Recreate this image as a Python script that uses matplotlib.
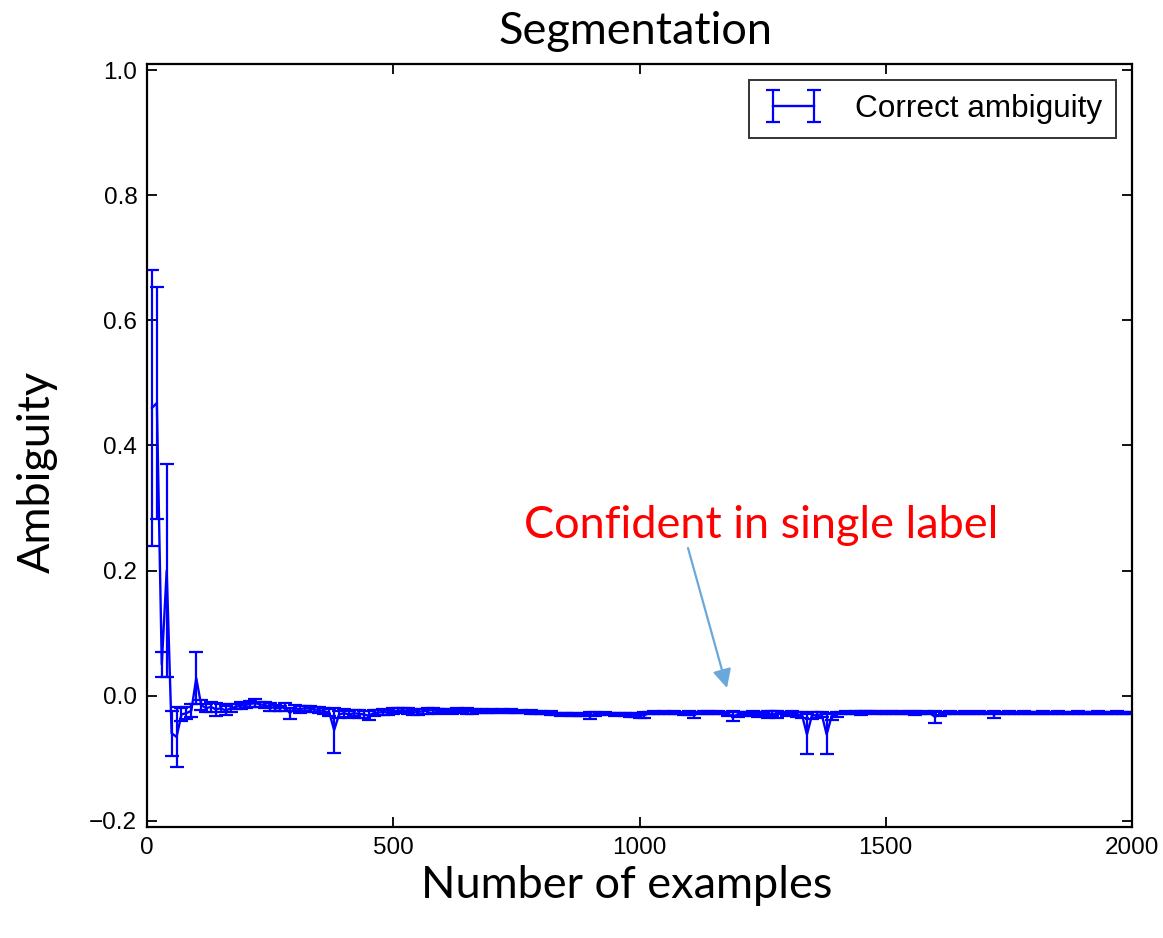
import numpy as np
import matplotlib
matplotlib.use("Agg")
import matplotlib.pyplot as plt

# sample count on the x axis (one point every 10 examples)
n_examples = list(range(10, 2001, 10))

ambiguity_mean = [
    0.460, 0.468, 0.050, 0.200, -0.060, -0.066, -0.030, -0.028, -0.024, 0.028,
    -0.015, -0.020, -0.018, -0.022, -0.020, -0.024, -0.020, -0.018, -0.016, -0.015,
    -0.013, -0.012, -0.014, -0.015, -0.018, -0.020, -0.020, -0.018, -0.028, -0.020,
    -0.022, -0.020, -0.021, -0.022, -0.023, -0.025, -0.027, -0.055, -0.030, -0.028,
    -0.030, -0.028, -0.029, -0.030, -0.032, -0.028, -0.027, -0.026, -0.027, -0.025,
    -0.024, -0.023, -0.025, -0.027, -0.026, -0.025, -0.024, -0.023, -0.025, -0.024,
    -0.025, -0.026, -0.024, -0.025, -0.024, -0.026, -0.025, -0.024, -0.025, -0.025,
    -0.025, -0.024, -0.025, -0.025, -0.026, -0.025, -0.026, -0.026, -0.027, -0.027,
    -0.028, -0.028, -0.029, -0.030, -0.029, -0.030, -0.030, -0.031, -0.030, -0.032,
    -0.029, -0.029, -0.028, -0.029, -0.030, -0.029, -0.030, -0.031, -0.031, -0.032,
    -0.031, -0.028, -0.027, -0.028, -0.027, -0.028, -0.027, -0.028, -0.029, -0.028,
    -0.031, -0.028, -0.027, -0.027, -0.028, -0.027, -0.028, -0.029, -0.033, -0.030,
    -0.029, -0.028, -0.029, -0.030, -0.029, -0.030, -0.029, -0.030, -0.028, -0.029,
    -0.028, -0.030, -0.031, -0.062, -0.032, -0.031, -0.030, -0.062, -0.033, -0.030,
    -0.028, -0.027, -0.028, -0.027, -0.028, -0.027, -0.026, -0.027, -0.028, -0.027,
    -0.027, -0.028, -0.027, -0.028, -0.027, -0.028, -0.028, -0.027, -0.028, -0.034,
    -0.029, -0.028, -0.027, -0.028, -0.028, -0.027, -0.028, -0.028, -0.027, -0.028,
    -0.028, -0.030, -0.028, -0.028, -0.027, -0.028, -0.028, -0.027, -0.028, -0.028,
    -0.028, -0.027, -0.028, -0.028, -0.027, -0.028, -0.028, -0.028, -0.027, -0.028,
    -0.028, -0.028, -0.027, -0.028, -0.028, -0.028, -0.027, -0.028, -0.028, -0.028,
]

ambiguity_err = [
    0.220, 0.185, 0.020, 0.170, 0.036, 0.048, 0.010, 0.010, 0.010, 0.042,
    0.008, 0.006, 0.008, 0.010, 0.006, 0.007, 0.006, 0.004, 0.006, 0.004,
    0.005, 0.006, 0.004, 0.005, 0.006, 0.005, 0.004, 0.006, 0.009, 0.005,
    0.005, 0.004, 0.005, 0.004, 0.005, 0.005, 0.005, 0.036, 0.006, 0.006,
    0.006, 0.005, 0.006, 0.005, 0.007, 0.005, 0.004, 0.005, 0.004, 0.005,
    0.004, 0.003, 0.005, 0.004, 0.005, 0.004, 0.005, 0.004, 0.004, 0.003,
    0.003, 0.003, 0.004, 0.003, 0.005, 0.003, 0.003, 0.003, 0.002, 0.003,
    0.002, 0.002, 0.002, 0.003, 0.002, 0.002, 0.002, 0.003, 0.002, 0.002,
    0.002, 0.003, 0.002, 0.003, 0.002, 0.002, 0.003, 0.002, 0.003, 0.006,
    0.003, 0.002, 0.002, 0.002, 0.003, 0.002, 0.003, 0.003, 0.003, 0.003,
    0.005, 0.002, 0.002, 0.002, 0.002, 0.002, 0.003, 0.002, 0.002, 0.003,
    0.005, 0.002, 0.002, 0.002, 0.002, 0.002, 0.002, 0.003, 0.008, 0.004,
    0.003, 0.002, 0.004, 0.004, 0.003, 0.005, 0.004, 0.005, 0.002, 0.003,
    0.003, 0.004, 0.005, 0.032, 0.006, 0.005, 0.004, 0.032, 0.006, 0.004,
    0.002, 0.003, 0.002, 0.002, 0.003, 0.002, 0.002, 0.003, 0.002, 0.002,
    0.002, 0.002, 0.003, 0.002, 0.002, 0.003, 0.002, 0.002, 0.002, 0.009,
    0.003, 0.002, 0.002, 0.002, 0.002, 0.002, 0.002, 0.002, 0.002, 0.002,
    0.002, 0.005, 0.002, 0.002, 0.002, 0.002, 0.002, 0.002, 0.002, 0.002,
    0.002, 0.002, 0.002, 0.002, 0.002, 0.002, 0.002, 0.002, 0.002, 0.002,
    0.002, 0.002, 0.002, 0.002, 0.002, 0.002, 0.002, 0.002, 0.002, 0.002,
]

x_ticks = [0, 500, 1000, 1500, 2000]
y_ticks = [-0.2, 0.0, 0.2, 0.4, 0.6, 0.8, 1.0]

W, H = 1163, 938
fig = plt.figure(figsize=(W / 100, H / 100), dpi=100)
ax = fig.add_axes([147 / W, 1 - 827 / H, (1132 - 147) / W, (827 - 64) / H])

ax.errorbar(n_examples, ambiguity_mean, yerr=ambiguity_err,
            color="b", ecolor="b", linewidth=1.7, elinewidth=1.6,
            capsize=5, capthick=1.6, label="Correct ambiguity")

ax.set_xlim(0, 2000)
ax.set_ylim(-0.21, 1.01)
ax.set_xticks(x_ticks)
ax.set_yticks(y_ticks)
ax.set_yticklabels([f"{v:.1f}".replace("-", "\u2212") for v in y_ticks])

tick_font = "Liberation Sans"
for lbl in ax.get_xticklabels() + ax.get_yticklabels():
    lbl.set_fontfamily(tick_font)
    lbl.set_fontsize(17.5)
ax.tick_params(direction="in", length=7, width=1.3, top=True, right=True, pad=7)
for sp in ax.spines.values():
    sp.set_linewidth(1.6)

leg = ax.legend(loc="upper right", numpoints=2, fancybox=False,
                prop={"family": tick_font, "size": 22.7},
                borderaxespad=0.5, handlelength=1.9, handletextpad=1.0,
                borderpad=0.45)
leg.get_frame().set_edgecolor("black")
leg.get_frame().set_linewidth(1.4)

slide_font = "Lato"
fig.text(636 / W, 1 - 31 / H, "Segmentation", ha="center", va="center",
         fontsize=32.5, family=slide_font)
fig.text(37 / W, 1 - 472 / H, "Ambiguity", ha="center", va="center",
         rotation=90, fontsize=32.5, family=slide_font)
fig.text(627 / W, 1 - 885 / H, "Number of examples", ha="center", va="center",
         fontsize=32.5, family=slide_font)
fig.text(761 / W, 1 - 525 / H, "Confident in single label", ha="center", va="center",
         fontsize=32.5, family=slide_font, color="red")

ax.annotate("", xy=(727, H - 688), xycoords="figure pixels",
            xytext=(688, H - 548), textcoords="figure pixels",
            arrowprops=dict(arrowstyle="-|>", color="#6aa8dc", lw=1.6,
                            mutation_scale=28, shrinkA=0, shrinkB=0))

fig.savefig("out.png", dpi=100)
